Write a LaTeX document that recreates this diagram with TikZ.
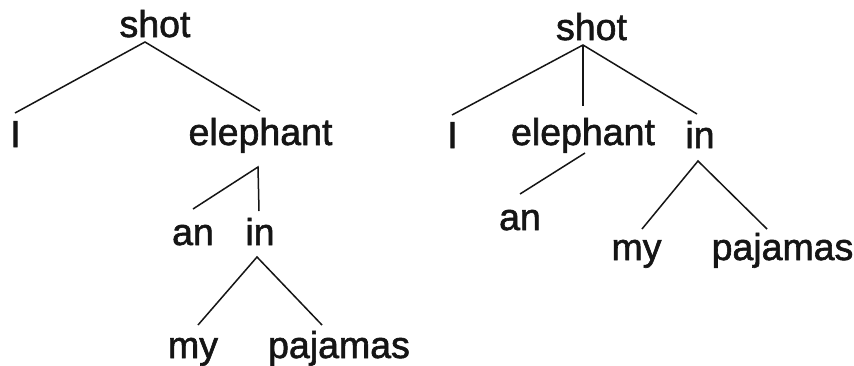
\documentclass[tikz,border=0pt]{standalone}
\usepackage{fontspec}
\setmainfont[FakeBold=1.6]{Liberation Sans}
\definecolor{ink}{HTML}{151515}
\begin{document}
\begin{tikzpicture}[x=1pt,y=-1pt,
  word/.style={inner sep=0pt,anchor=base,text=ink,font=\fontsize{37.5}{40}\selectfont},
  edge/.style={draw=ink,line width=1.5pt}]
\useasboundingbox[fill=white] (0,0) rectangle (854,365);
% left tree
\node[word] (Lshot) at (155,37) {shot};
\node[word] (LI) at (15.5,147) {I};
\node[word] (Leleph) at (260.5,145) {elephant};
\node[word] (Lan) at (193,245) {an};
\node[word] (Lin) at (260,245) {in};
\node[word] (Lmy) at (193,358) {my};
\node[word] (Lpaj) at (339,358) {pajamas};
\coordinate (LshotB) at (145,42);
\coordinate (LIT) at (15,113);
\coordinate (LelephT) at (260,111);
\coordinate (LelephB) at (258,167);
\coordinate (LanT) at (193,209);
\coordinate (LinT) at (259,211);
\coordinate (LinB) at (257,257);
\coordinate (LmyT) at (198,325);
\coordinate (LpajT) at (322,325);
\draw[edge] (LIT) -- (LshotB) -- (LelephT);
\draw[edge] (LanT) -- (LelephB) -- (LinT);
\draw[edge] (LmyT) -- (LinB) -- (LpajT);
% right tree
\node[word] (Rshot) at (591.5,40) {shot};
\node[word] (RI) at (452.5,148) {I};
\node[word] (Releph) at (583,145) {elephant};
\node[word] (Rin) at (700,148) {in};
\node[word] (Ran) at (520,230) {an};
\node[word] (Rmy) at (636.5,260) {my};
\node[word] (Rpaj) at (782.5,260) {pajamas};
\coordinate (RshotB) at (583,45);
\coordinate (RIT) at (452,115);
\coordinate (RelephT) at (583,106);
\coordinate (RinT) at (697,114);
\coordinate (RelephB) at (585,153);
\coordinate (RanT) at (520,194);
\coordinate (RinB) at (698,161);
\coordinate (RmyT) at (642,229);
\coordinate (RpajT) at (767,229);
\draw[edge] (RIT) -- (RshotB) -- (RinT);
\draw[edge] (RshotB) -- (RelephT);
\draw[edge] (RelephB) -- (RanT);
\draw[edge] (RmyT) -- (RinB) -- (RpajT);
\end{tikzpicture}
\end{document}
